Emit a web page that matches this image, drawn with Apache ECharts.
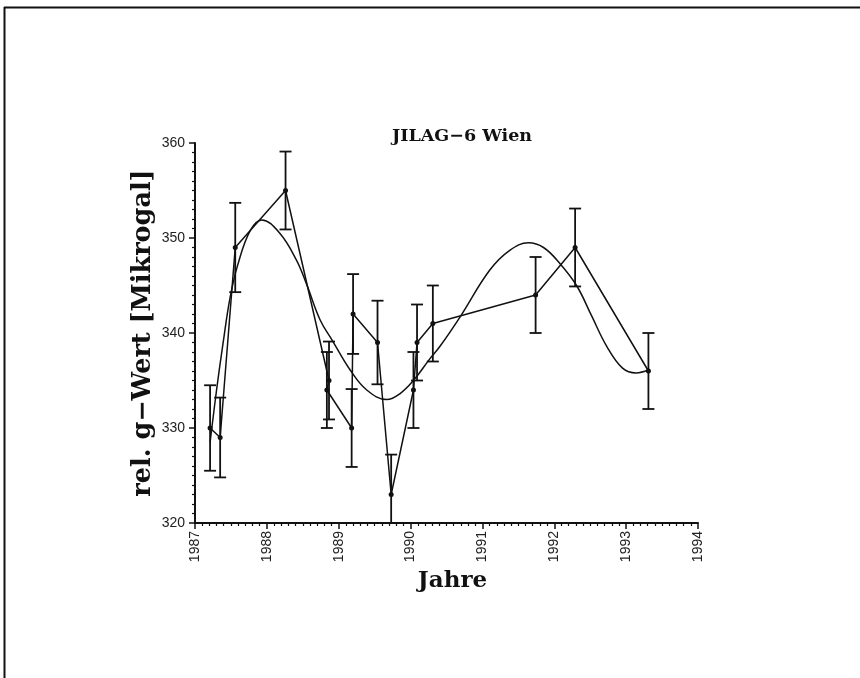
<!DOCTYPE html>
<html>
<head>
<meta charset="utf-8">
<script src="https://cdn.jsdelivr.net/npm/echarts@6/dist/echarts.min.js"></script>
<style>html,body{margin:0;padding:0;background:#fff;}#c{width:860px;height:678px;}</style>
</head>
<body>
<div id="c"></div>
<script>
// Measurements (year, value, error)
const years  = [1987.21, 1987.35, 1987.56, 1988.26, 1988.865, 1988.835, 1989.18, 1989.20, 1989.54, 1989.73, 1990.04, 1990.09, 1990.31, 1991.74, 1992.29, 1993.31];
const values = [330, 329, 349, 355, 335, 334, 330, 342, 339, 323, 334, 339, 341, 344, 349, 336];
const errors = [4.5, 4.2, 4.7, 4.1, 4.1, 4.0, 4.1, 4.2, 4.4, 4.2, 4.0, 4.0, 4.0, 4.0, 4.1, 4.0];
// Smooth fitted curve
const fitYears  = [1987.21, 1987.30, 1987.39, 1987.49, 1987.60, 1987.77, 1987.93, 1988.18, 1988.41, 1988.55, 1988.74, 1988.92, 1989.16, 1989.39, 1989.67, 1989.85, 1990.04, 1990.27, 1990.41, 1990.69, 1991.10, 1991.38, 1991.64, 1991.85, 1992.08, 1992.31, 1992.52, 1992.73, 1992.95, 1993.14, 1993.31];
const fitValues = [328.5, 334.0, 338.9, 343.8, 347.3, 350.8, 351.9, 350.5, 347.7, 345.2, 341.4, 339.1, 336.1, 334.0, 333.0, 333.6, 335.0, 337.3, 338.6, 341.7, 346.6, 348.7, 349.5, 349.0, 347.3, 345.0, 341.8, 338.6, 336.3, 335.8, 336.1];
const titleText = 'JILAG\u22126 Wien';
const yName = 'rel. g\u2212Wert [Mikrogal]';
const xName = 'Jahre';

const pts = years.map((y, i) => [y, values[i]]);
const errData = years.map((y, i) => [y, values[i] - errors[i], values[i] + errors[i]]);
const fit = fitYears.map((y, i) => [y, fitValues[i]]);

const chart = echarts.init(document.getElementById('c'), null, {renderer: 'canvas'});
const serif = "'DejaVu Serif', serif";
const sans = "'Liberation Sans', sans-serif";
chart.setOption({
  animation: false,
  backgroundColor: '#fff',
  title: {
    text: titleText, left: 387, top: 122,
    textStyle: {fontFamily: serif, fontSize: 17.5, fontWeight: 'bold', color: '#111'}
  },
  grid: {left: 195, right: 162, top: 143, bottom: 155, containLabel: false},
  xAxis: {
    type: 'value', min: 1987, max: 1994, interval: 1,
    name: xName, nameLocation: 'middle', nameGap: 47, nameMoveOverlap: false,
    nameTextStyle: {fontFamily: serif, fontSize: 23, fontWeight: 'bold', color: '#111', padding: [0, 0, 0, 12]},
    axisLine: {lineStyle: {color: '#111', width: 2}},
    axisTick: {length: 6, lineStyle: {color: '#111', width: 1.5}},
    minorTick: {show: true, splitNumber: 10, length: 3, lineStyle: {color: '#111', width: 1.2}},
    splitLine: {show: false},
    axisLabel: {rotate: 90, margin: 8, fontFamily: sans, fontSize: 14, color: '#222', formatter: v => String(v)}
  },
  yAxis: {
    type: 'value', min: 320, max: 360, interval: 10,
    name: yName, nameLocation: 'middle', nameGap: 39, nameMoveOverlap: false,
    nameTextStyle: {fontFamily: serif, fontSize: 25.5, fontWeight: 'bold', color: '#111'},
    axisLine: {show: true, lineStyle: {color: '#111', width: 2}},
    axisTick: {show: true, length: 6, lineStyle: {color: '#111', width: 1.5}},
    minorTick: {show: true, splitNumber: 10, length: 3, lineStyle: {color: '#111', width: 1.2}},
    splitLine: {show: false},
    axisLabel: {margin: 10, fontFamily: sans, fontSize: 14, color: '#222', formatter: v => String(v)}
  },
  graphic: [
    {type: 'line', shape: {x1: 4, y1: 7.5, x2: 860, y2: 7.5}, style: {stroke: '#111', lineWidth: 2}},
    {type: 'line', shape: {x1: 4.5, y1: 7, x2: 4.5, y2: 678}, style: {stroke: '#111', lineWidth: 2}}
  ],
  series: [
    {
      type: 'line', data: fit, smooth: 0.4, showSymbol: false, symbol: 'none',
      lineStyle: {color: '#111', width: 1.5}, z: 2
    },
    {
      type: 'line', data: pts, symbol: 'circle', symbolSize: 5,
      itemStyle: {color: '#111'}, lineStyle: {color: '#111', width: 1.5}, z: 3
    },
    {
      type: 'custom', data: errData, clip: true, z: 4,
      renderItem: function (params, api) {
        const x = api.value(0), lo = api.value(1), hi = api.value(2);
        const a = api.coord([x, hi]), b = api.coord([x, lo]);
        const cs = params.coordSys;
        const bottom = cs.y + cs.height;
        const half = 6;
        const style = {stroke: '#111', lineWidth: 1.8};
        const children = [
          {type: 'line', shape: {x1: a[0], y1: a[1], x2: b[0], y2: Math.min(b[1], bottom)}, style: style},
          {type: 'line', shape: {x1: a[0] - half, y1: a[1], x2: a[0] + half, y2: a[1]}, style: style}
        ];
        if (b[1] <= bottom) {
          children.push({type: 'line', shape: {x1: b[0] - half, y1: b[1], x2: b[0] + half, y2: b[1]}, style: style});
        }
        return {type: 'group', children: children};
      }
    }
  ]
});
</script>
</body>
</html>
